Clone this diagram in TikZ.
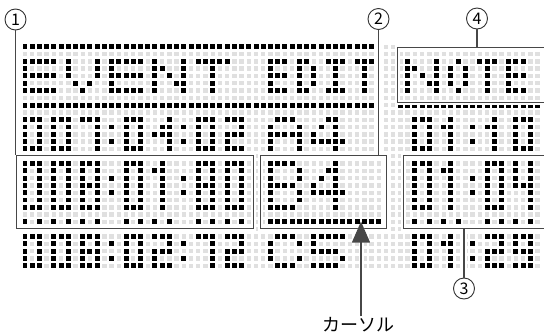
\documentclass[tikz,border=0pt]{standalone}
\usepackage{fontspec}
\newfontfamily\jp{Noto Sans CJK JP}
\usetikzlibrary{arrows.meta}

% dot-matrix glyphs: name, width, one binary code per row (top to bottom)
\newcommand{\defglyph}[3]{\expandafter\def\csname gw-#1\endcsname{#2}\expandafter\def\csname gc-#1\endcsname{#3}}
\defglyph{0}{3}{7,5,5,5,7}\defglyph{1}{3}{2,6,2,2,2}\defglyph{2}{3}{7,1,7,4,7}
\defglyph{4}{3}{1,3,7,1,1}\defglyph{7}{3}{7,1,1,1,1}\defglyph{8}{3}{7,5,7,5,7}
\defglyph{9}{3}{7,5,7,1,7}\defglyph{col}{1}{0,1,0,1,0}
\defglyph{0L}{3}{7,5,5,5,5,5,7}\defglyph{1L}{3}{2,6,2,2,2,2,2}\defglyph{4L}{3}{5,5,5,7,1,1,1}
\defglyph{8L}{3}{7,5,5,7,5,5,7}\defglyph{colL}{1}{0,0,1,0,1,0,0}
\defglyph{E}{5}{31,16,31,16,31}\defglyph{V}{5}{17,17,17,10,4}\defglyph{N}{5}{17,25,21,19,17}
\defglyph{T}{5}{31,4,4,4,4}\defglyph{A}{5}{14,17,31,17,17}\defglyph{4w}{5}{6,10,18,31,2}
\defglyph{C}{5}{14,17,16,17,14}\defglyph{5w}{5}{31,16,30,1,30}
\defglyph{e}{3}{7,4,7,4,7}\defglyph{d}{3}{6,5,5,5,6}\defglyph{i}{3}{7,2,2,2,7}
\defglyph{t}{3}{7,2,2,2,2}\defglyph{o}{3}{2,5,5,5,2}
\defglyph{BL}{5}{30,17,17,30,17,17,30}\defglyph{4L5}{5}{2,6,10,18,31,2,2}

\newcommand{\dotat}[2]{\fill[lcdon] ({#1-.345},{#2-.34}) rectangle ({#1+.345},{#2+.34});}
\newcommand{\lcd}[3]{% column, row, glyph
  \edef\glw{\csname gw-#3\endcsname}\edef\glc{\csname gc-#3\endcsname}%
  \foreach \code [count=\dy from 0] in \glc {%
    \foreach \dx in {1,...,\glw} {%
      \pgfmathtruncatemacro{\onbit}{mod(int(\code/2^(\glw-\dx)),2)}%
      \ifnum\onbit=1 \dotat{#1+\dx-1}{#2+\dy}\fi}}}

\begin{document}
\begin{tikzpicture}[x=1pt, y=-1pt,
  lcdoff/.style={draw=black!12, line width=4.4pt, dash pattern=on 4.4pt off 2.82pt},
  lcdon/.style={fill=black},
  leader/.style={draw=black!72, line width=1.1pt, preaction={draw=white, line width=5pt, shorten <=2.5pt}},
  panel/.style={leader, rectangle, inner sep=0pt, anchor=north west},
  num/.style={circle, draw=black!80, line width=.9pt, fill=white, minimum size=21pt, inner sep=0pt, font=\jp\fontsize{16}{16}\selectfont}]
\clip (0,0) rectangle (544,335);
\begin{scope}[shift={(25,46.7)}, x=7.22pt, y=-7.3pt]
  % unlit dots
  \foreach \r in {0,...,30} \draw[lcdoff] (-.305,\r) -- (71.4,\r);
  % separator rows
  \foreach \c in {0,...,49} {\dotat{\c}{0}\dotat{\c}{8}}
  \foreach \c in {52,...,71} {\dotat{\c}{8}}
  % EVENT EDIT / NOTE
  \foreach \c/\g in {0/E,6/V,12/E,18/N,24/T,34/e,38/d,42/i,46/t,53/N,59/o,63/t,67/e} {\lcd{\c}{2}{\g}}
  % 007:04:02 A4 / 01:10
  \foreach \c/\g in {0/0,4/0,8/7,12/col,14/0,18/4,22/col,24/0,28/2,34/A,40/4w,54/0,58/1,62/col,64/1,68/0} {\lcd{\c}{10}{\g}}
  % 008:01:80 B4 / 01:04
  \foreach \c/\g in {0/0L,4/0L,8/8L,12/colL,14/0L,18/1L,22/colL,24/8L,28/0L,34/BL,40/4L5,54/0L,58/1L,62/colL,64/0L,68/4L} {\lcd{\c}{16}{\g}}
  % digit marks and cursor
  \foreach \c in {0,2,4,6,8,10,14,16,18,20,24,26,28,30,54,56,58,60,64,66,68,70} {\dotat{\c}{24}}
  \foreach \c in {34,...,49} {\dotat{\c}{24}}
  % 008:02:72 C5 / 01:29
  \foreach \c/\g in {0/0,4/0,8/8,12/col,14/0,18/2,22/col,24/7,28/2,34/C,40/5w,54/0,58/1,62/col,64/2,68/9} {\lcd{\c}{26}{\g}}
\end{scope}
% frames
\node[panel, minimum width=237.5pt, minimum height=73pt] (b1) at (15.5,155) {};
\node[panel, minimum width=125.5pt, minimum height=73pt] (b2) at (260,155) {};
\node[panel, minimum width=160pt, minimum height=73pt] (b3) at (403,155) {};
\node[panel, minimum width=160pt, minimum height=54.7pt] (b4) at (397,47) {};
% callouts
\node[num] (n1) at (15.5,19.5) {1};
\node[num] (n2) at (378.5,19) {2};
\node[num] (n4) at (477,18.5) {4};
\node[num] (n3) at (464,288.5) {3};
\draw[leader] (n1) -- (b1.north west);
\draw[leader] (n2) -- (n2 |- b2.north);
\draw[leader] (n4) -- (n4 |- b4.north);
\draw[leader] (n3) -- (n3 |- b3.south);
\node[font=\jp\fontsize{18}{18}\selectfont, inner sep=1pt] (cursor) at (358.5,325) {カーソル};
\coordinate (tip) at (361,221.5);
\draw[leader, -{Triangle[length=21pt, width=18pt]}] (cursor.north -| tip) -- (tip);
\end{tikzpicture}
\end{document}
